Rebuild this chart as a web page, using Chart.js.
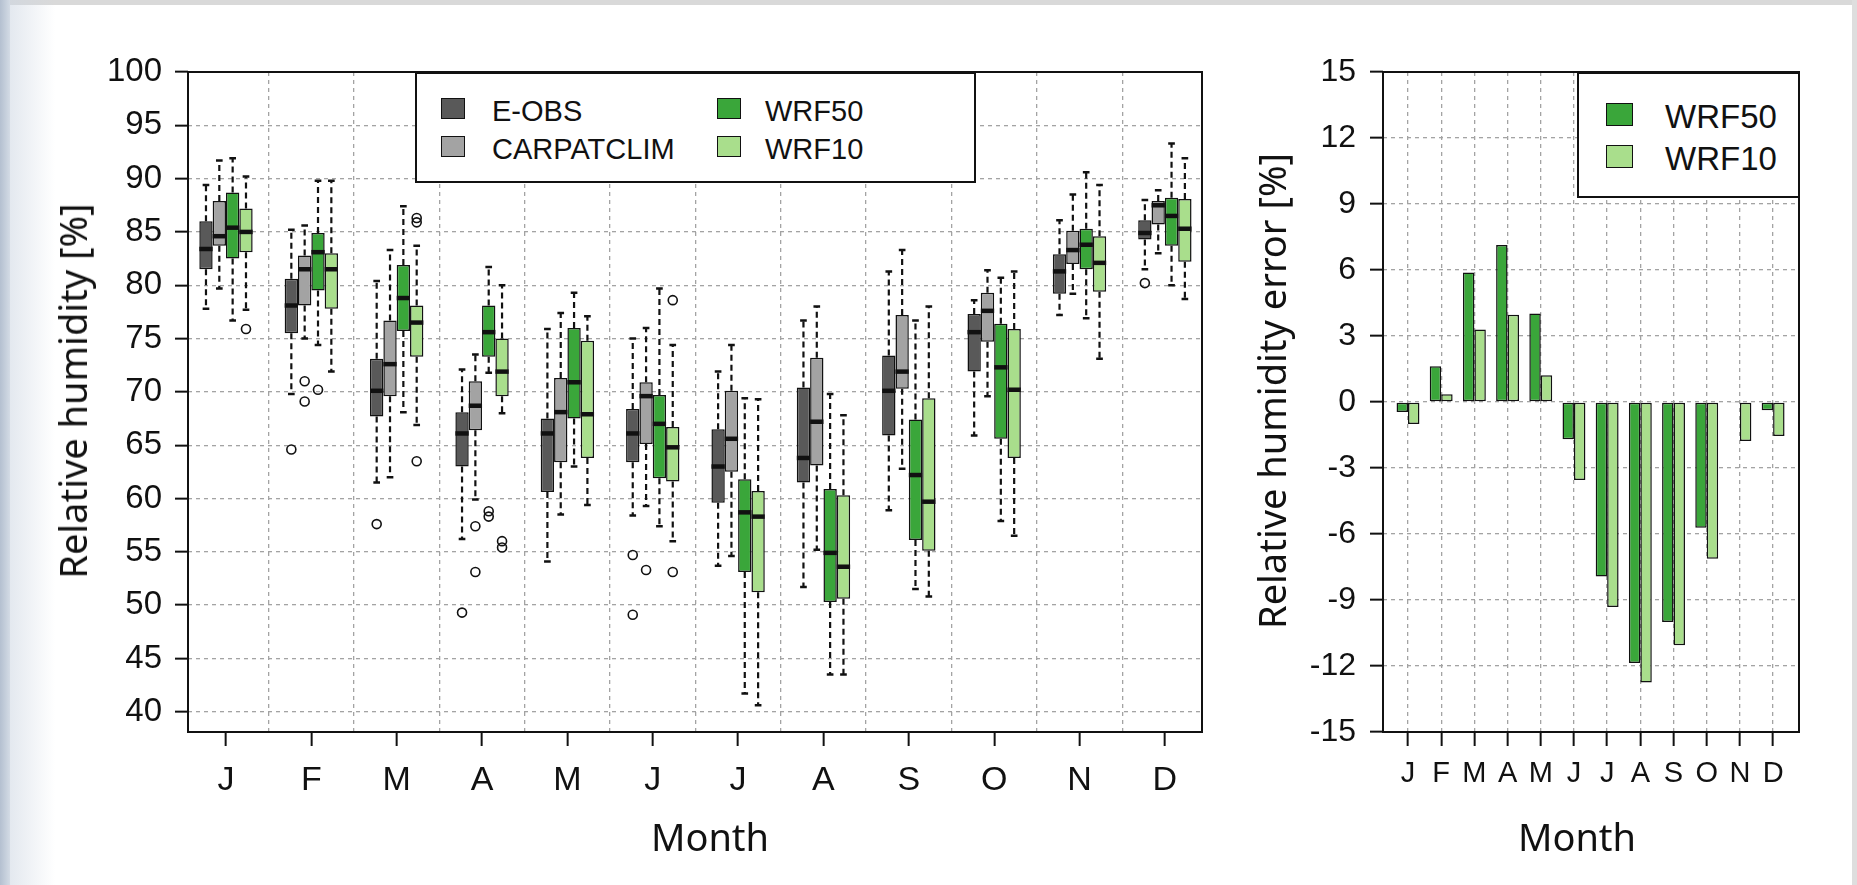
<!DOCTYPE html>
<html>
<head>
<meta charset="utf-8">
<title>Relative humidity</title>
<script src="https://cdn.jsdelivr.net/npm/chart.js@4.4.1/dist/chart.umd.min.js"></script>
<style>
  body { margin: 0; width: 1857px; height: 885px; position: relative; overflow: hidden; background: #fff; font-family: 'Liberation Sans', Arial, sans-serif; color: #111; }
  .edge-top { position: absolute; left: 0; top: 0; width: 100%; height: 5px; background: #d9d9d9; }
  .edge-left { position: absolute; left: 0; top: 0; width: 10px; height: 100%; background: linear-gradient(to right, #b4c0d0, #d3dbe5); }
  .edge-soft { position: absolute; left: 10px; top: 0; width: 45px; height: 100%; background: linear-gradient(to right, rgba(205,214,226,0.55), rgba(255,255,255,0)); }
  .edge-right { position: absolute; right: 0; top: 0; width: 5px; height: 100%; background: #dedede; }
  canvas { position: absolute; top: 0; }
  #boxChart { left: 0; }
  #errChart { left: 1240px; }
  .legend { position: absolute; box-sizing: border-box; border: 2px solid #111; background: #fff; }
  .legend .sw { position: absolute; box-sizing: border-box; border: 1.5px solid #111; }
  .legend .lb { position: absolute; line-height: 1; transform: translateY(-50%); white-space: nowrap; }
  .title { position: absolute; font-family: 'Noto Sans', sans-serif; line-height: 1; white-space: nowrap; color: #111; }
  .ytitle { font-size: 38px; transform: translate(-50%, -50%) rotate(-90deg); }
  .xtitle { font-size: 38px; transform: translate(-50%, -50%); }
</style>
</head>
<body>
<div class="edge-top"></div>
<div class="edge-left"></div>
<div class="edge-soft"></div>
<div class="edge-right"></div>
<canvas id="boxChart" width="1240" height="885"></canvas>
<canvas id="errChart" width="617" height="885"></canvas>
<div class="legend" id="boxLegend" style="left:415px;top:72px;width:561px;height:111px"></div>
<div class="legend" id="errLegend" style="left:1577px;top:72px;width:223px;height:126px"></div>
<div class="title ytitle" style="left:72px;top:391px">Relative humidity [%]</div>
<div class="title xtitle" style="left:710px;top:836px">Month</div>
<div class="title ytitle" style="left:1271px;top:391px">Relative humidity error [%]</div>
<div class="title xtitle" style="left:1577px;top:836px">Month</div>
<script>
const months = ['J', 'F', 'M', 'A', 'M', 'J', 'J', 'A', 'S', 'O', 'N', 'D'];
const seriesNames = ['E-OBS', 'CARPATCLIM', 'WRF50', 'WRF10'];
const seriesColors = ['#595959', '#a3a3a3', '#3aa63a', '#a9de8c'];

// per month: [lower whisker, Q1, median, Q3, upper whisker]
const eobsStats = [
  [77.8, 81.5, 83.4, 86.0, 89.4], [69.8, 75.5, 78.1, 80.6, 85.2], [61.5, 67.7, 70.1, 73.1, 80.4],
  [56.2, 63.0, 66.1, 68.1, 72.1], [54.1, 60.6, 66.1, 67.5, 75.9], [58.4, 63.4, 66.1, 68.4, 75.0],
  [53.7, 59.6, 63.0, 66.5, 71.9], [51.7, 61.5, 63.8, 70.4, 76.7], [58.9, 65.9, 70.1, 73.4, 81.3],
  [65.9, 71.9, 75.6, 77.3, 78.6], [77.2, 79.2, 81.3, 82.9, 86.1], [81.5, 84.3, 84.9, 86.1, 88.0]
];
const carpatclimStats = [
  [79.7, 83.7, 84.6, 87.9, 91.7], [75.0, 78.1, 81.5, 82.8, 85.6], [62.0, 69.6, 72.6, 76.7, 83.3],
  [59.9, 66.4, 68.7, 71.0, 73.5], [58.5, 63.4, 68.1, 71.3, 77.4], [59.3, 65.1, 69.6, 70.9, 76.0],
  [54.6, 62.5, 65.6, 70.1, 74.4], [55.2, 63.1, 67.2, 73.2, 78.0], [62.8, 70.3, 71.9, 77.2, 83.3],
  [69.6, 74.7, 77.6, 79.3, 81.4], [79.2, 82.0, 83.3, 85.1, 88.5], [83.0, 85.7, 87.5, 87.9, 88.9]
];
const wrf50Stats = [
  [76.7, 82.5, 85.4, 88.7, 91.9], [74.4, 79.5, 83.1, 84.9, 89.8], [68.1, 75.7, 78.8, 81.9, 87.4],
  [71.8, 73.3, 75.6, 78.1, 81.7], [63.0, 67.5, 70.9, 76.0, 79.3], [57.4, 61.9, 67.0, 69.7, 79.7],
  [41.7, 53.1, 58.7, 61.8, 69.4], [43.5, 50.3, 54.9, 60.9, 69.8], [51.5, 56.1, 62.2, 67.4, 76.7],
  [57.9, 65.6, 72.3, 76.4, 80.7], [76.9, 81.5, 83.8, 85.3, 90.6], [80.0, 83.7, 86.5, 88.2, 93.3]
];
const wrf10Stats = [
  [77.7, 83.1, 85.0, 87.2, 90.2], [71.9, 77.8, 81.5, 83.0, 89.8], [66.9, 73.3, 76.5, 78.1, 83.7],
  [68.0, 69.6, 71.9, 75.0, 80.0], [59.4, 63.8, 67.9, 74.8, 77.1], [56.0, 61.6, 64.8, 66.7, 74.4],
  [40.6, 51.2, 58.3, 60.7, 69.3], [43.5, 50.6, 53.6, 60.3, 67.8], [50.8, 55.1, 59.7, 69.4, 78.0],
  [56.5, 63.8, 70.2, 75.9, 81.3], [73.1, 79.4, 82.1, 84.6, 89.4], [78.7, 82.2, 85.3, 88.1, 91.9]
];

// outliers: [month index, value]
const eobsOutliers = [[1, 64.6], [2, 57.6], [3, 49.3], [5, 54.7], [5, 49.1], [11, 80.2]];
const carpatclimOutliers = [[1, 71.0], [1, 69.1], [3, 57.4], [3, 53.1], [5, 53.3]];
const wrf50Outliers = [[1, 70.2], [3, 58.8], [3, 58.3]];
const wrf10Outliers = [[0, 75.9], [2, 86.3], [2, 85.9], [2, 63.5], [3, 56.0], [3, 55.4], [5, 78.6], [5, 53.1]];

const rhTicks = [40, 45, 50, 55, 60, 65, 70, 75, 80, 85, 90, 95, 100];

// relative humidity error [%]
const wrf50Error = [-0.45, 1.63, 5.89, 7.14, 4.02, -1.69, -7.93, -11.86, -10.0, -5.72, -0.05, -0.38];
const wrf10Error = [-1.0, 0.35, 3.29, 3.97, 1.22, -3.55, -9.32, -12.75, -11.06, -7.13, -1.77, -1.54];
const errTicks = [-15, -12, -9, -6, -3, 0, 3, 6, 9, 12, 15];

const boxStats = [eobsStats, carpatclimStats, wrf50Stats, wrf10Stats];
const boxOutliers = [eobsOutliers, carpatclimOutliers, wrf50Outliers, wrf10Outliers];

const gridColor = '#a3a3a3';
const ink = '#111';
const clear = 'rgba(0,0,0,0)';
Chart.defaults.font.family = "'Liberation Sans', Arial, sans-serif";
Chart.defaults.color = ink;

// month centres plus the boundaries between months (boundaries carry the grid)
const monthAndGapTicks = months.flatMap((m, i) => i < months.length - 1 ? [i, i + 0.5] : [i]);

// black box round the plot region
const frame = {
  id: 'frame',
  afterDatasetsDraw(chart) {
    const { ctx, chartArea: a } = chart;
    ctx.save();
    ctx.strokeStyle = ink;
    ctx.lineWidth = 2;
    ctx.strokeRect(a.left, a.top, a.right - a.left, a.bottom - a.top);
    ctx.restore();
  }
};

// whiskers, caps, medians and outliers on top of the floating bars
const boxDetails = {
  id: 'boxDetails',
  afterDatasetsDraw(chart) {
    const { ctx } = chart;
    const y = chart.scales.y;
    ctx.save();
    ctx.strokeStyle = ink;
    boxStats.forEach((stats, d) => {
      const bars = chart.getDatasetMeta(d).data;
      stats.forEach(([lo, q1, med, q3, hi], i) => {
        const { x, width } = bars[i];
        ctx.lineWidth = 2.2;
        ctx.setLineDash([6, 4]);
        ctx.beginPath();
        ctx.moveTo(x, y.getPixelForValue(q3));
        ctx.lineTo(x, y.getPixelForValue(hi));
        ctx.moveTo(x, y.getPixelForValue(q1));
        ctx.lineTo(x, y.getPixelForValue(lo));
        ctx.stroke();
        ctx.setLineDash([]);
        ctx.lineWidth = 2.5;
        ctx.beginPath();
        [lo, hi].forEach(v => {
          const py = y.getPixelForValue(v);
          ctx.moveTo(x - width / 4, py);
          ctx.lineTo(x + width / 4, py);
        });
        ctx.stroke();
        ctx.lineWidth = 4.5;
        ctx.beginPath();
        const pm = y.getPixelForValue(med);
        ctx.moveTo(x - width / 2, pm);
        ctx.lineTo(x + width / 2, pm);
        ctx.stroke();
      });
      ctx.lineWidth = 1.6;
      boxOutliers[d].forEach(([i, v]) => {
        ctx.beginPath();
        ctx.arc(bars[i].x, y.getPixelForValue(v), 4.5, 0, Math.PI * 2);
        ctx.stroke();
      });
    });
    ctx.restore();
  }
};

new Chart(document.getElementById('boxChart'), {
  type: 'bar',
  data: {
    datasets: boxStats.map((stats, d) => ({
      label: seriesNames[d],
      data: stats.map((s, i) => ({ x: i, y: [s[1], s[3]] })),
      backgroundColor: seriesColors[d],
      borderColor: ink,
      borderWidth: 1.5,
      borderSkipped: false,
      barPercentage: 1,
      // the half-step grid ticks halve the bar ruler, so this is 0.625 of a month
      categoryPercentage: 1.25
    }))
  },
  options: {
    responsive: false,
    animation: false,
    layout: { padding: { top: 72, right: 38, bottom: 0, left: 0 } },
    plugins: { legend: { display: false }, tooltip: { enabled: false } },
    scales: {
      x: {
        type: 'linear', min: -0.445, max: 11.435, offset: false,
        afterBuildTicks: s => { s.ticks = monthAndGapTicks.map(v => ({ value: v })); },
        afterFit: s => { s.height = 153; },
        grid: {
          offset: false, lineWidth: 1.3, tickLength: 14, tickWidth: 2, tickBorderDash: [],
          color: c => (c.tick && Number.isInteger(c.tick.value)) ? clear : gridColor,
          tickColor: c => (c.tick && Number.isInteger(c.tick.value)) ? ink : clear
        },
        border: { display: false, dash: [4, 4] },
        ticks: {
          autoSkip: false, maxRotation: 0, padding: 14, font: { size: 34 },
          callback: v => Number.isInteger(v) ? months[v] : ''
        }
      },
      y: {
        min: 38.1, max: 100,
        afterBuildTicks: s => { s.ticks = rhTicks.map(v => ({ value: v })); },
        afterFit: s => { s.width = 188; },
        grid: { color: gridColor, lineWidth: 1.3, tickLength: 13, tickWidth: 2, tickColor: ink, tickBorderDash: [] },
        border: { display: false, dash: [4, 4] },
        ticks: { padding: 13, font: { size: 33 } }
      }
    }
  },
  plugins: [boxDetails, frame]
});

new Chart(document.getElementById('errChart'), {
  type: 'bar',
  data: {
    datasets: [wrf50Error, wrf10Error].map((vals, d) => ({
      label: seriesNames[d + 2],
      data: vals.map((v, i) => ({ x: i, y: v })),
      backgroundColor: seriesColors[d + 2],
      borderColor: ink,
      borderWidth: 1.5,
      borderSkipped: false,
      barPercentage: 1,
      categoryPercentage: 0.69
    }))
  },
  options: {
    responsive: false,
    animation: false,
    layout: { padding: { top: 72, right: 58, bottom: 0, left: 0 } },
    plugins: { legend: { display: false }, tooltip: { enabled: false } },
    scales: {
      x: {
        type: 'linear', min: -0.753, max: 11.78, offset: false,
        afterBuildTicks: s => { s.ticks = months.map((m, i) => ({ value: i })); },
        afterFit: s => { s.height = 153; },
        grid: { offset: false, color: gridColor, lineWidth: 1.3, tickLength: 14, tickWidth: 2, tickColor: ink, tickBorderDash: [] },
        border: { display: false, dash: [4, 4] },
        ticks: { autoSkip: false, maxRotation: 0, padding: 11, font: { size: 29 }, callback: v => months[v] }
      },
      y: {
        min: -15, max: 15,
        afterBuildTicks: s => { s.ticks = errTicks.map(v => ({ value: v })); },
        afterFit: s => { s.width = 143; },
        grid: { color: gridColor, lineWidth: 1.3, tickLength: 13, tickWidth: 2, tickColor: ink, tickBorderDash: [] },
        border: { display: false, dash: [4, 4] },
        ticks: { padding: 14, font: { size: 32 } }
      }
    }
  },
  plugins: [frame]
});

// legends drawn as html boxes over the plot corners
function buildLegend(el, items, sw, fontSize) {
  items.forEach(it => {
    const s = document.createElement('div');
    s.className = 'sw';
    s.style.cssText = `left:${it.sx}px;top:${it.sy}px;width:${sw[0]}px;height:${sw[1]}px;background:${seriesColors[it.k]}`;
    el.appendChild(s);
    const t = document.createElement('div');
    t.className = 'lb';
    t.textContent = seriesNames[it.k];
    t.style.cssText = `left:${it.tx}px;top:${it.ty}px;font-size:${fontSize}px`;
    el.appendChild(t);
  });
}
buildLegend(document.getElementById('boxLegend'), [
  { k: 0, sx: 24, sy: 24, tx: 75, ty: 37 },
  { k: 1, sx: 24, sy: 62, tx: 75, ty: 75 },
  { k: 2, sx: 300, sy: 24, tx: 348, ty: 37 },
  { k: 3, sx: 300, sy: 62, tx: 348, ty: 75 }
], [24, 21], 29);
buildLegend(document.getElementById('errLegend'), [
  { k: 2, sx: 27, sy: 29, tx: 86, ty: 42 },
  { k: 3, sx: 27, sy: 71, tx: 86, ty: 84 }
], [27, 23], 33);
</script>
</body>
</html>
